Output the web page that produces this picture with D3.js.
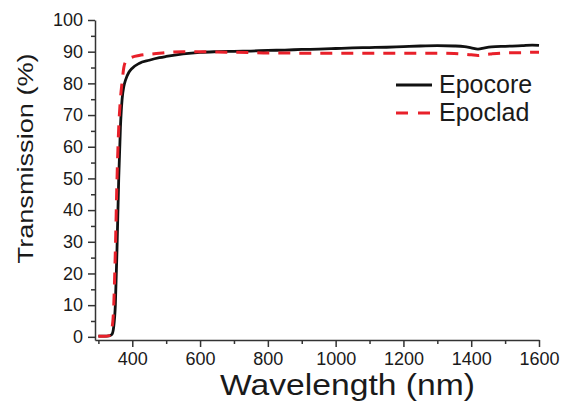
<!DOCTYPE html>
<html>
<head>
<meta charset="utf-8">
<script src="https://cdn.jsdelivr.net/npm/d3@7"></script>
<style>
    body { margin: 0; background: #fff; }
    #chart-area { width: 568px; height: 403px; }
    text { font-family: "Liberation Sans", Arial, sans-serif; fill: #1a1a1a; }
</style>
</head>
<body>
<div id="chart-area"></div>
<script>
// wavelength samples (nm), shared by both series
const wavelengths = [300, 320, 330, 335, 340, 345, 350, 355, 360, 365, 370, 375, 380, 390, 400,
    420, 450, 480, 500, 550, 600, 650, 700, 750, 800, 850, 900, 950, 1000, 1050, 1100, 1150,
    1200, 1250, 1300, 1350, 1380, 1400, 1420, 1440, 1460, 1500, 1550, 1580, 1600];

// transmission (%)
const epocoreValues = [0.2, 0.2, 0.3, 0.4, 0.8, 3, 10, 28, 50, 66, 75, 79, 81, 83.5, 84.8,
    86.3, 87.3, 88.1, 88.5, 89.3, 89.8, 90.0, 90.1, 90.2, 90.4, 90.5, 90.7, 90.8, 91.0, 91.2, 91.3, 91.4,
    91.6, 91.8, 91.9, 91.8, 91.6, 91.2, 90.8, 91.2, 91.5, 91.7, 91.9, 92.1, 92.0];

const epocladValues = [0.2, 0.2, 0.3, 0.6, 2.5, 9, 27, 50, 66, 75, 80.5, 85, 86.8, 87.8, 88.3,
    88.8, 89.2, 89.5, 89.7, 90.0, 90.0, 89.9, 89.8, 89.7, 89.6, 89.6, 89.5, 89.5, 89.5, 89.5, 89.5, 89.5,
    89.5, 89.5, 89.5, 89.4, 89.2, 89.0, 88.8, 89.1, 89.3, 89.6, 89.7, 89.8, 89.8];

const seriesNames = ["Epocore", "Epoclad"];
const xMajorTicks = [400, 600, 800, 1000, 1200, 1400, 1600];
const xMinorTicks = [300, 500, 700, 900, 1100, 1300, 1500];
const yMajorTicks = [0, 10, 20, 30, 40, 50, 60, 70, 80, 90, 100];
const yMinorTicks = [5, 15, 25, 35, 45, 55, 65, 75, 85, 95];

class TransmissionVis {
    constructor(_parentElement) {
        this.parentElement = _parentElement;
        this.initVis();
    }

    initVis() {
        let vis = this;

        vis.margin = {top: 20, right: 29, bottom: 63, left: 95};
        vis.width = 568 - vis.margin.left - vis.margin.right;
        vis.height = 403 - vis.margin.top - vis.margin.bottom;

        vis.svg = d3.select("#" + vis.parentElement).append("svg")
            .attr("width", 568)
            .attr("height", 403)
            .append("g")
            .attr("transform", "translate(" + vis.margin.left + "," + vis.margin.top + ")");

        // y goes a bit below zero so the baseline sits off the x axis (Origin style)
        vis.x = d3.scaleLinear().domain([290, 1600]).range([0, vis.width]);
        vis.y = d3.scaleLinear().domain([-1, 100]).range([vis.height, 0]);

        vis.wrangleData();
    }

    wrangleData() {
        let vis = this;
        vis.series = [
            {name: seriesNames[0], values: wavelengths.map((w, i) => ({w: w, t: epocoreValues[i]})),
                color: "#111", dash: null, width: 2.8},
            {name: seriesNames[1], values: wavelengths.map((w, i) => ({w: w, t: epocladValues[i]})),
                color: "#e8202a", dash: "12,9", width: 3}
        ];
        vis.updateVis();
    }

    updateVis() {
        let vis = this;
        let fmt = d3.format("d");

        // axes
        vis.svg.append("g")
            .attr("transform", "translate(0," + vis.height + ")")
            .call(d3.axisBottom(vis.x).tickValues(xMajorTicks).tickFormat(fmt)
                .tickSize(7).tickSizeOuter(0).tickPadding(5));
        vis.svg.append("g")
            .attr("transform", "translate(0," + vis.height + ")")
            .call(d3.axisBottom(vis.x).tickValues(xMinorTicks).tickSize(4).tickFormat(""))
            .select(".domain").remove();

        vis.svg.append("g")
            .call(d3.axisLeft(vis.y).tickValues(yMajorTicks).tickFormat(fmt)
                .tickSize(7).tickSizeOuter(0).tickPadding(5));
        vis.svg.append("g")
            .call(d3.axisLeft(vis.y).tickValues(yMinorTicks).tickSize(4).tickFormat(""))
            .select(".domain").remove();

        vis.svg.selectAll(".domain, .tick line")
            .attr("stroke", "#333")
            .attr("stroke-width", 1.5);
        vis.svg.selectAll(".tick text")
            .style("font-size", "18px")
            .attr("fill", "#1a1a1a");

        // axis titles
        vis.svg.append("text")
            .attr("x", vis.x(1035))
            .attr("y", vis.height + 55)
            .attr("text-anchor", "middle")
            .attr("textLength", 255)
            .attr("lengthAdjust", "spacingAndGlyphs")
            .style("font-size", "29px")
            .text("Wavelength (nm)");

        vis.svg.append("text")
            .attr("transform", "rotate(-90)")
            .attr("x", -vis.y(50) + 20)
            .attr("y", -62)
            .attr("text-anchor", "middle")
            .attr("textLength", 210)
            .attr("lengthAdjust", "spacingAndGlyphs")
            .style("font-size", "22px")
            .text("Transmission (%)");

        // curves
        let line = d3.line()
            .x(d => vis.x(d.w))
            .y(d => vis.y(d.t))
            .curve(d3.curveMonotoneX);

        vis.series.forEach(function(s) {
            vis.svg.append("path")
                .datum(s.values)
                .attr("d", line)
                .attr("fill", "none")
                .attr("stroke", s.color)
                .attr("stroke-width", s.width)
                .attr("stroke-dasharray", s.dash);
        });

        // legend
        let legend = vis.svg.append("g")
            .attr("transform", "translate(301,65)");

        vis.series.forEach(function(s, i) {
            legend.append("line")
                .attr("x1", 0)
                .attr("x2", 36)
                .attr("y1", i * 28)
                .attr("y2", i * 28)
                .attr("stroke", s.color)
                .attr("stroke-width", s.width)
                .attr("stroke-dasharray", s.dash ? "12,10" : null);
            legend.append("text")
                .attr("x", 43)
                .attr("y", i * 28 + 8)
                .style("font-size", "25px")
                .text(s.name);
        });
    }
}

new TransmissionVis("chart-area");
</script>
</body>
</html>
